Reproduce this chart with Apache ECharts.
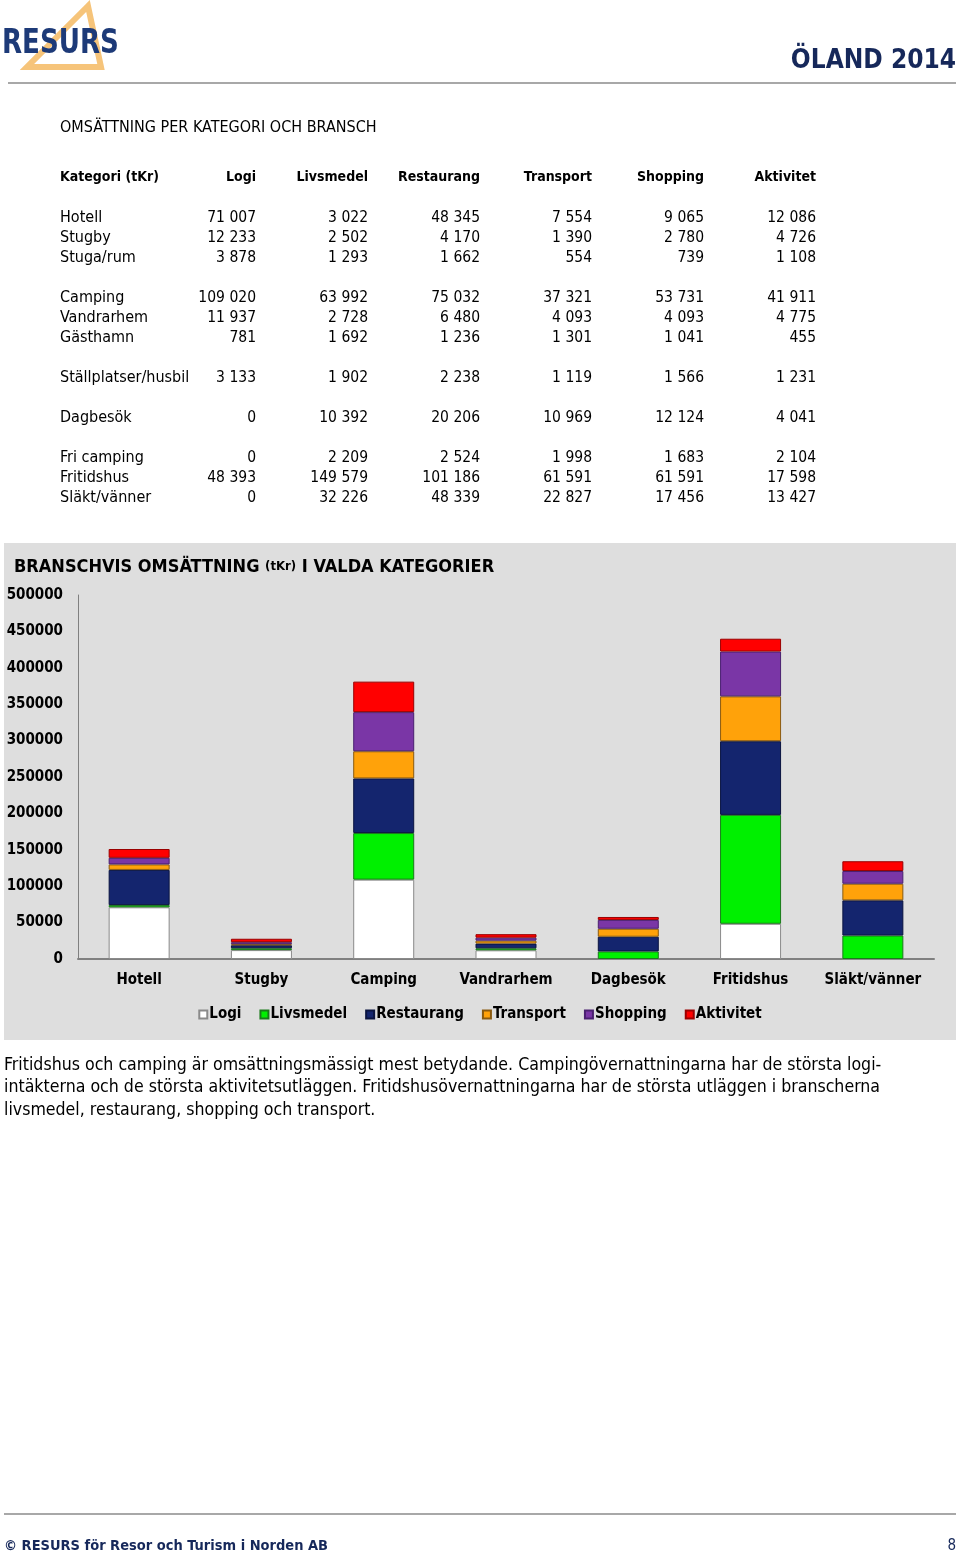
<!DOCTYPE html>
<html><head><meta charset="utf-8">
<script src="https://cdn.jsdelivr.net/npm/echarts@6/dist/echarts.min.js"></script>
<style>html,body{margin:0;padding:0;background:#fff}#c{width:960px;height:1556px}</style>
</head><body><div id="c"></div>
<script>
// ---- data ----
const branches = ['Logi','Livsmedel','Restaurang','Transport','Shopping','Aktivitet'];
const tableRows = ['Hotell','Stugby','Stuga/rum','Camping','Vandrarhem','Gästhamn','Ställplatser/husbil','Dagbesök','Fri camping','Fritidshus','Släkt/vänner'];
const Hotell      = [71007, 3022, 48345, 7554, 9065, 12086];
const Stugby      = [12233, 2502, 4170, 1390, 2780, 4726];
const StugaRum    = [3878, 1293, 1662, 554, 739, 1108];
const Camping     = [109020, 63992, 75032, 37321, 53731, 41911];
const Vandrarhem  = [11937, 2728, 6480, 4093, 4093, 4775];
const Gasthamn    = [781, 1692, 1236, 1301, 1041, 455];
const Stallplatser= [3133, 1902, 2238, 1119, 1566, 1231];
const Dagbesok    = [0, 10392, 20206, 10969, 12124, 4041];
const FriCamping  = [0, 2209, 2524, 1998, 1683, 2104];
const Fritidshus  = [48393, 149579, 101186, 61591, 61591, 17598];
const SlaktVanner = [0, 32226, 48339, 22827, 17456, 13427];
const tableData = [Hotell, Stugby, StugaRum, Camping, Vandrarhem, Gasthamn, Stallplatser, Dagbesok, FriCamping, Fritidshus, SlaktVanner];
const chartCategories = ['Hotell','Stugby','Camping','Vandrarhem','Dagbesök','Fritidshus','Släkt/vänner'];
const chartData = [Hotell, Stugby, Camping, Vandrarhem, Dagbesok, Fritidshus, SlaktVanner];
const yTicks = [0, 50000, 100000, 150000, 200000, 250000, 300000, 350000, 400000, 450000, 500000];

// ---- styles ----
const FONT = '"DejaVu Sans Condensed", "DejaVu Sans", sans-serif';
const colors = ['#ffffff','#00f000','#14256e','#ffa20a','#7a36a6','#ff0000'];
const borders = ['#8a8a8a','#1a7a1a','#0a1440','#8a5a10','#4a2070','#9a0000'];
const rowY = [216,236,256,296,316,336,376,416,456,476,496].map(v=>v+2);
const colX = [256,368,480,592,704,816];
const fmt = v => String(v).replace(/\B(?=(\d{3})+(?!\d))/g, ' ');

const g = [];
// logo triangle
g.push({type:'polygon', shape:{points:[[88,6],[27,67],[101,67]]}, style:{fill:'none', stroke:'#f6c47a', lineWidth:6, lineJoin:'miter'}});
g.push({type:'text', x:2, y:44, scaleX:0.88, style:{text:'RESURS', font:'bold 33px '+FONT, fill:'#1d3a78', textVerticalAlign:'middle'}});
g.push({type:'text', x:956, y:61, style:{text:'ÖLAND 2014', font:'bold 26px '+FONT, fill:'#16285a', textAlign:'right', textVerticalAlign:'middle'}});
g.push({type:'line', shape:{x1:8,y1:83,x2:956,y2:83}, style:{stroke:'#a8a8a8', lineWidth:2}});
g.push({type:'text', x:60, y:128, style:{text:'OMSÄTTNING PER KATEGORI OCH BRANSCH', font:'16px '+FONT, fill:'#000', textVerticalAlign:'middle'}});
g.push({type:'text', x:60, y:177, style:{text:'Kategori (tKr)', font:'bold 14px '+FONT, fill:'#000', textVerticalAlign:'middle'}});
branches.forEach((b,i)=>g.push({type:'text', x:colX[i], y:177, style:{text:b, font:'bold 14px '+FONT, fill:'#000', textAlign:'right', textVerticalAlign:'middle'}}));
tableRows.forEach((r,ri)=>{
  g.push({type:'text', x:60, y:rowY[ri], style:{text:r, font:'16px '+FONT, fill:'#000', textVerticalAlign:'middle'}});
  tableData[ri].forEach((v,ci)=>g.push({type:'text', x:colX[ci], y:rowY[ri], style:{text:fmt(v), font:'15.5px '+FONT, fill:'#000', textAlign:'right', textVerticalAlign:'middle'}}));
});
// chart background
g.push({type:'rect', z:-10, shape:{x:4,y:543,width:952,height:497}, style:{fill:'#dedede'}});
g.push({type:'text', x:14, y:567, style:{text:'{a|BRANSCHVIS OMSÄTTNING }{b|(tKr)}{a| I VALDA KATEGORIER}', rich:{a:{font:'bold 18px '+FONT, fill:'#000'}, b:{font:'bold 13px '+FONT, fill:'#000'}}, textVerticalAlign:'middle'}});
// paragraph
const para = ['Fritidshus och camping är omsättningsmässigt mest betydande. Campingövernattningarna har de största logi-',
 'intäkterna och de största aktivitetsutläggen. Fritidshusövernattningarna har de största utläggen i branscherna',
 'livsmedel, restaurang, shopping och transport.'];
para.forEach((t,i)=>g.push({type:'text', x:4, y:1065+i*22.5, style:{text:t, font:'17.6px '+FONT, fill:'#000', textVerticalAlign:'middle'}}));
// footer
g.push({type:'line', shape:{x1:4,y1:1514,x2:956,y2:1514}, style:{stroke:'#a8a8a8', lineWidth:2}});
g.push({type:'text', x:4, y:1546, style:{text:'© RESURS för Resor och Turism i Norden AB', font:'bold 14.5px '+FONT, fill:'#16285a', textVerticalAlign:'middle'}});
g.push({type:'text', x:956, y:1546, style:{text:'8', font:'15px '+FONT, fill:'#16285a', textAlign:'right', textVerticalAlign:'middle'}});

const series = branches.map((b,i)=>({
  name:b, type:'bar', stack:'s', barWidth:61,
  data: chartData.map(r=>r[i]),
  itemStyle:{color:colors[i], borderColor:borders[i], borderWidth:1}
}));

const chart = echarts.init(document.getElementById('c'), null, {renderer:'canvas'});
chart.setOption({
  animation:false,
  textStyle:{fontFamily:FONT},
  grid:{left:78, right:26, top:595, bottom:597, containLabel:false},
  xAxis:{type:'category', data:chartCategories,
    axisLine:{lineStyle:{color:'#808080', width:2}}, axisTick:{show:false},
    axisLabel:{interval:0, margin:14, fontSize:15, fontWeight:'bold', color:'#000', fontFamily:FONT}},
  yAxis:{type:'value', min:yTicks[0], max:yTicks[yTicks.length-1], interval:yTicks[1]-yTicks[0],
    axisLine:{show:true, lineStyle:{color:'#808080', width:1}}, axisTick:{show:false}, splitLine:{show:false},
    axisLabel:{margin:15, fontSize:15, fontWeight:'bold', color:'#000', fontFamily:FONT, formatter:v=>String(v)}},
  legend:{data:branches, top:1002, left:'center', icon:'rect', itemWidth:8, itemHeight:8, itemGap:18,
    textStyle:{fontSize:15, fontWeight:'bold', color:'#000', fontFamily:FONT, padding:[0,0,0,-3]}},
  series: series,
  graphic: g
});
</script></body></html>
